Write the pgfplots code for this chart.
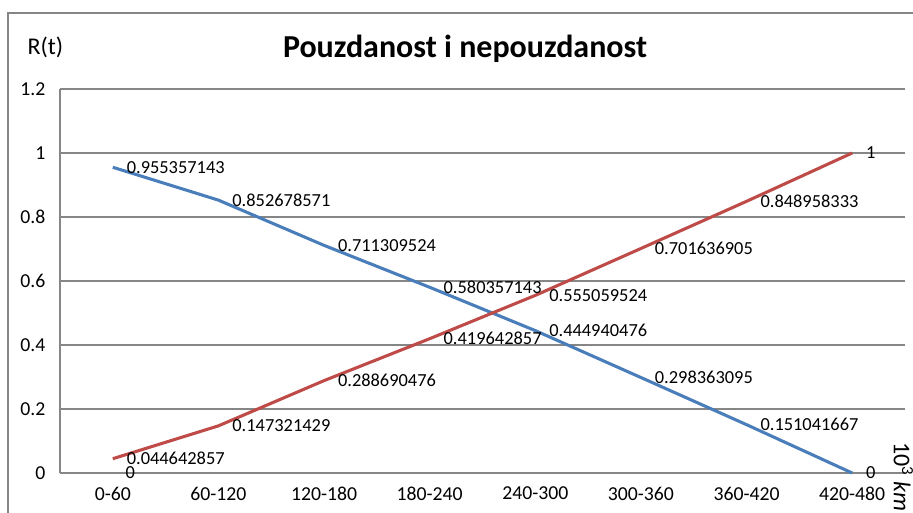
\documentclass[border=0pt]{standalone}
\usepackage{fontspec}
\setmainfont{Carlito}
\usepackage{pgfplots}
\pgfplotsset{compat=1.18}
\usepackage{pgfplotstable}

\definecolor{rblue}{HTML}{4A7EBB}
\definecolor{rred}{HTML}{BE4B48}
\definecolor{gridgray}{HTML}{868686}

% pouzdanost R(t)
\pgfplotstableread{
x y
0 0.955357143
1 0.852678571
2 0.711309524
3 0.580357143
4 0.444940476
5 0.298363095
6 0.151041667
7 0
}\pouzdanost

% nepouzdanost F(t)
\pgfplotstableread{
x y
0 0.044642857
1 0.147321429
2 0.288690476
3 0.419642857
4 0.555059524
5 0.701636905
6 0.848958333
7 1
}\nepouzdanost

\begin{document}
\begin{tikzpicture}
\begin{axis}[
    at={(0,0)}, anchor=south west,
    scale only axis,
    width=633.75pt, height=288pt,
    xmin=-0.5, xmax=7.5,
    ymin=0, ymax=1.2,
    xtick={0,...,7},
    xticklabels={0-60,60-120,120-180,180-240,240-300,300-360,360-420,420-480},
    ytick={0,0.2,0.4,0.6,0.8,1,1.2},
    yticklabels={0,0.2,0.4,0.6,0.8,1,1.2},
    axis lines*=left,
    axis line style={gridgray, line width=0.8pt},
    ymajorgrids,
    major grid style={gridgray, line width=0.8pt},
    major tick length=0pt,
    tick label style={font=\fontsize{14.8}{17}\selectfont, black},
    yticklabel style={xshift=-7.5pt},
    xticklabel style={yshift=-7pt},
    clip=false,
    point meta=explicit symbolic,
    nodes near coords,
    every node near coord/.append style={anchor=west, xshift=6pt,
        font=\fontsize{13.8}{16}\selectfont, black},
]
\addplot[rblue, line width=2.3pt] table[x=x, y=y, meta=y] {\pouzdanost};
\addplot[rred, line width=2.3pt] table[x=x, y=y, meta=y] {\nepouzdanost};
\addplot[draw=none] coordinates {(0,0) [0]};
\end{axis}
% okvir grafikona
\draw[gridgray, line width=0.9pt] (-39pt,-30pt) -- (-39pt,345pt) -- (639.75pt,345pt);
\node[font=\fontsize{24}{28}\bfseries\selectfont] at (303.75pt,318.5pt) {Pouzdanost i nepouzdanost};
\node[font=\fontsize{18}{21}\selectfont] at (-11pt,319.5pt) {R(t)};
\node[font=\fontsize{18}{21}\selectfont, rotate=-90, anchor=south west, inner sep=0pt]
    at (625pt,23pt) {10\textsuperscript{3} \textit{km}};
\pgfresetboundingbox
\path[use as bounding box] (-45pt,-30pt) rectangle (639.75pt,354.75pt);
\end{tikzpicture}
\end{document}
